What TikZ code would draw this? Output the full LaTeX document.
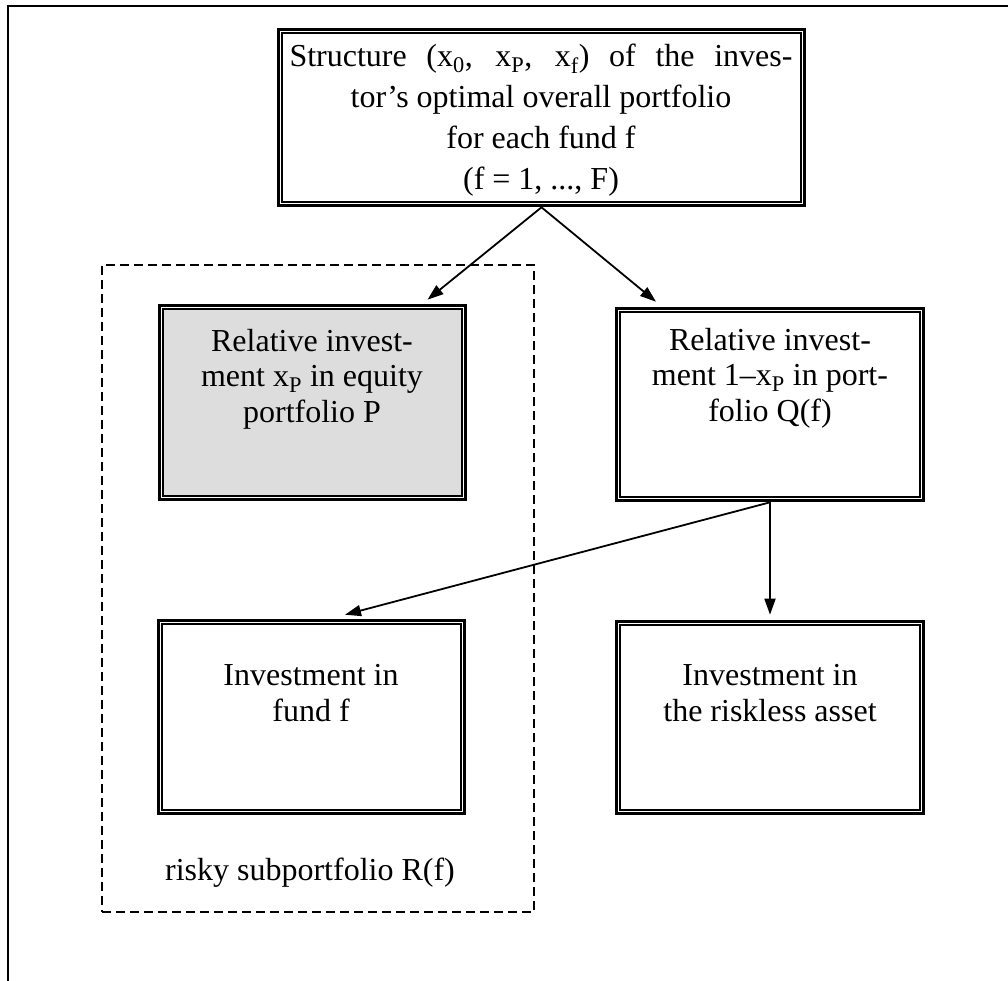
\documentclass[tikz,border=0pt]{standalone}
\usepackage{fontspec}
\setmainfont{Liberation Serif}
\usetikzlibrary{arrows.meta,calc}
\definecolor{boxgray}{RGB}{221,221,221}
\tikzset{
  dbox/.style={draw, line width=3.6pt, inner sep=0pt},
  inframe/.style={line width=2pt},
  txt/.style={font=\fontsize{32}{35.5}\selectfont, align=center, inner sep=0pt, anchor=base},
  conn/.style={line width=1.8pt, -{Triangle[length=16pt,width=11pt]}},
  dashbox/.style={draw, line width=2pt, dash pattern=on 9pt off 5pt, inner sep=0pt},
  frame/.style={line width=2.4pt}
}
\begin{document}
\begin{tikzpicture}[x=1pt,y=-1pt]
\path[use as bounding box, clip] (0,0) rectangle (1008,980);
% outer frame (continues beyond the picture on the right and bottom)
\draw[frame] (8,6) rectangle (1030,1000);

% boxes
\node[dbox, minimum width=526pt, minimum height=176pt] (top) at (541.5,117.5) {};
\node[dbox, minimum width=306pt, minimum height=194pt] (P) at (312.5,402.5) {};
\node[dbox, minimum width=307pt, minimum height=192pt] (Q) at (770,404.5) {};
\node[dbox, minimum width=306pt, minimum height=193pt] (fund) at (311.5,717) {};
\node[dbox, minimum width=307pt, minimum height=192pt] (riskless) at (770,717.5) {};

% inner lines of the double frames
\foreach \b in {top,Q,fund,riskless}{
  \draw[inframe] ($(\b.north west)+(5.2,5.2)$) rectangle ($(\b.south east)+(-5.2,-5.2)$);
}
\draw[inframe, fill=boxgray] ($(P.north west)+(5.2,5.2)$) rectangle ($(P.south east)+(-5.2,-5.2)$);

% dashed group
\node[dashbox, minimum width=432pt, minimum height=647pt] (risky) at (318,588.5) {};

% texts (anchored at the baseline of their last line)
\node[txt, font=\fontsize{32}{41}\selectfont] (toptxt) at (541,189)
  {\makebox[503pt][s]{Structure (x\textsubscript{0}, x\textsubscript{P}, x\textsubscript{f}) of the inves-}\\tor's optimal overall portfolio\\for each fund f\\(f = 1, ..., F)};
\node[txt] (Ptxt) at (312,422) {Relative invest-\\ment x\textsubscript{P} in equity\\portfolio P};
\node[txt] (Qtxt) at (770,421) {Relative invest-\\ment 1\textendash x\textsubscript{P} in port-\\folio Q(f)};
\node[txt] (fundtxt) at (311,721) {Investment in\\fund f};
\node[txt] (risklesstxt) at (770,721) {Investment in\\the riskless asset};
\node[txt] (riskytxt) at (310,880) {risky subportfolio R(f)};

% connectors
\draw[conn] (top.south) -- ([xshift=115pt,yshift=4pt]P.north);
\draw[conn] (top.south) -- ([xshift=-114pt,yshift=5pt]Q.north);
\draw[conn] (Q.south) -- ([xshift=33.5pt,yshift=4pt]fund.north);
\draw[conn] (Q.south) -- ([yshift=5pt]riskless.north);
\end{tikzpicture}
\end{document}
